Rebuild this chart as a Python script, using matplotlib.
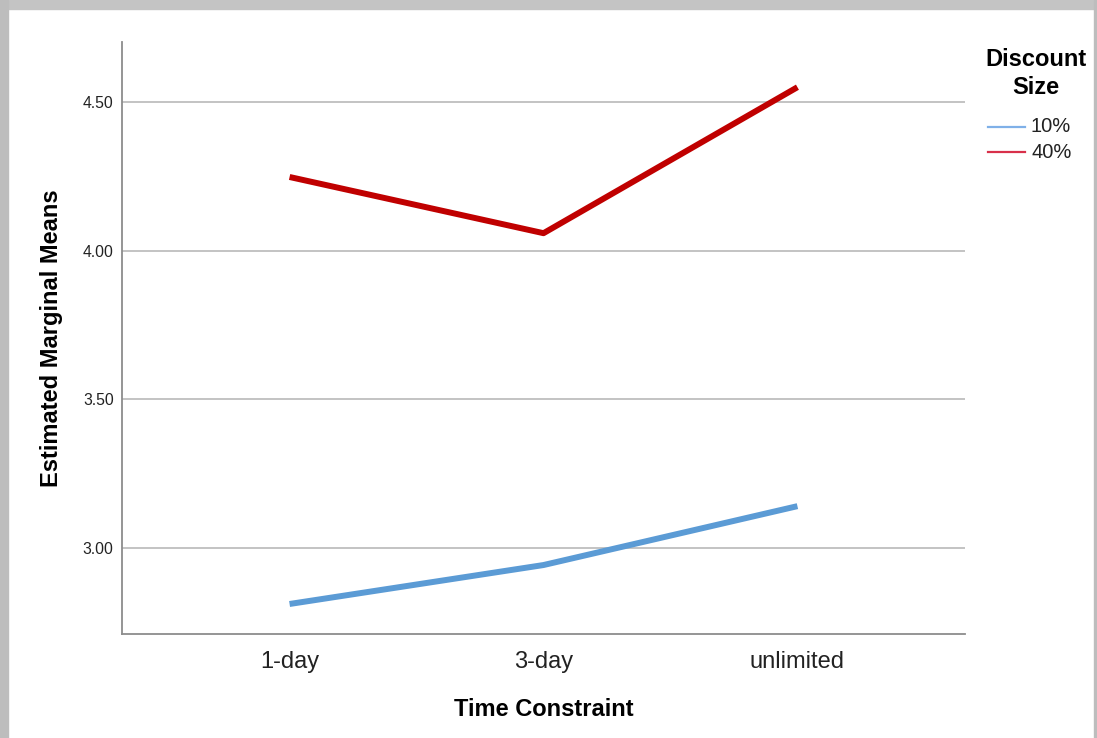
import matplotlib
matplotlib.use("Agg")
import matplotlib.pyplot as plt
from matplotlib.patches import Rectangle
from matplotlib.lines import Line2D

plt.rcParams['font.family'] = ['Liberation Sans', 'DejaVu Sans']

# data
time_constraint = ['1-day', '3-day', 'unlimited']
discount_sizes = ['10%', '40%']
means_10 = [2.812, 2.943, 3.141]
means_40 = [4.248, 4.059, 4.550]
y_ticks = [3.00, 3.50, 4.00, 4.50]

blue = '#5B9BD5'
red = '#C00000'

fig = plt.figure(figsize=(10.97, 7.38), dpi=100)
ax = fig.add_axes([0.1112, 0.1409, 0.7685, 0.8022])

x = list(range(len(time_constraint)))
ax.plot(x, means_10, color=blue, lw=4.3, solid_capstyle='butt', zorder=3)
ax.plot(x, means_40, color=red, lw=4.3, solid_capstyle='butt', zorder=3)

ax.set_xlim(-0.66, 2.66)
ax.set_ylim(2.711, 4.702)
ax.set_xticks(x)
ax.set_xticklabels(time_constraint, fontsize=17, color='#222222')
ax.set_yticks(y_ticks)
ax.set_yticklabels(['%.2f' % v for v in y_ticks], fontsize=11.3, color='#222222')
ax.tick_params(axis='y', length=0, pad=6)
ax.tick_params(axis='x', length=0, pad=12)
ax.grid(axis='y', color='#BEBEBE', lw=1.3, zorder=1)

for s in ['top', 'right']:
    ax.spines[s].set_visible(False)
for s in ['left', 'bottom']:
    ax.spines[s].set_color('#8C8C8C')
    ax.spines[s].set_linewidth(1.3)

ax.set_xlabel('Time Constraint', fontsize=17, fontweight='bold', labelpad=18)
ax.set_ylabel('Estimated Marginal Means', fontsize=17, fontweight='bold', labelpad=14)

# legend, drawn by hand so the spacing matches
W, H = 1097.0, 738.0
fig.text(1036 / W, 1 - 60 / H, 'Discount', ha='center', va='center', fontsize=17, fontweight='bold')
fig.text(1036 / W, 1 - 87 / H, 'Size', ha='center', va='center', fontsize=17, fontweight='bold')
leg_colors = ['#7FB0E8', '#D8304A']
for i, (lab, c) in enumerate(zip(discount_sizes, leg_colors)):
    yy = 1 - (127 + 25 * i) / H
    fig.add_artist(Line2D([988 / W, 1025 / W], [yy, yy], transform=fig.transFigure, color=c, lw=1.6))
    fig.text(1031 / W, yy, lab, ha='left', va='center', fontsize=14.5, color='#222222')

# window frame
fig.patches.append(Rectangle((0, 0.988), 1, 0.012, transform=fig.transFigure, color='#C4C4C4', zorder=0))
fig.patches.append(Rectangle((0, 0), 0.0075, 1, transform=fig.transFigure, color='#BDBDBD', zorder=0))
fig.patches.append(Rectangle((0.9975, 0), 0.0025, 1, transform=fig.transFigure, color='#BDBDBD', zorder=0))

fig.savefig('out.png', dpi=100)
